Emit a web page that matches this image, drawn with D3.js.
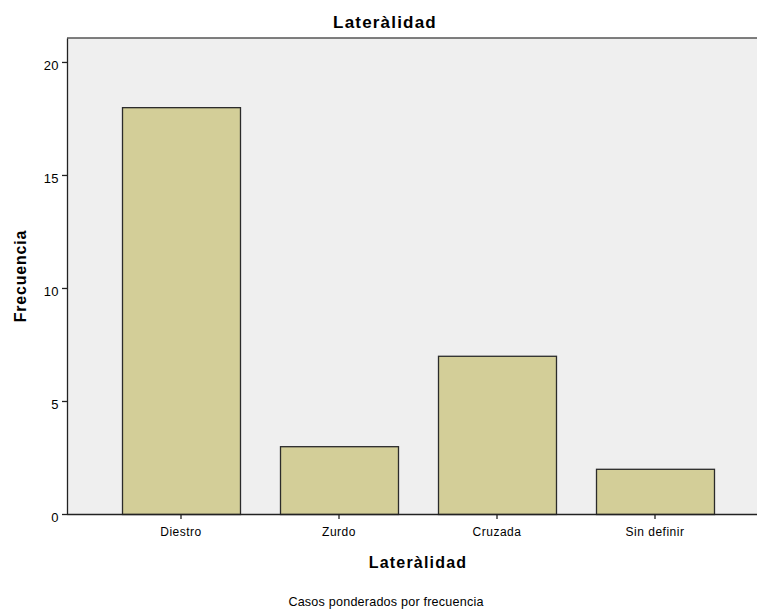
<!DOCTYPE html>
<html><head><meta charset="utf-8">
<script src="https://cdn.jsdelivr.net/npm/d3@7"></script>
<style>body{margin:0;background:#fff}svg{display:block}text{font-family:"Liberation Sans",Arial,sans-serif;fill:#000}</style>
</head><body>
<script>
const categories = ["Diestro","Zurdo","Cruzada","Sin definir"];
const values = [18,3,7,2];
const yTicks = [0,5,10,15,20];
const title = "Lateràlidad";
const xLabel = "Lateràlidad";
const yLabel = "Frecuencia";
const footer = "Casos ponderados por frecuencia";

const W=757,H=611;
const plot={l:67,t:38,r:757,b:514};
const svg=d3.select("body").append("svg").attr("width",W).attr("height",H);

const y=d3.scaleLinear().domain([0,21.06]).range([plot.b,plot.t]);
const x=d3.scaleBand().domain(categories).range([102,734]).paddingInner(0.2532).paddingOuter(0.1266);

svg.append("rect").attr("x",plot.l).attr("y",plot.t).attr("width",plot.r-plot.l).attr("height",plot.b-plot.t).attr("fill","#efefef");
svg.append("line").attr("x1",plot.l).attr("x2",plot.r).attr("y1",plot.t).attr("y2",plot.t).attr("stroke","#555").attr("stroke-width",1.5);

svg.append("g").selectAll("rect").data(values).join("rect")
  .attr("x",(d,i)=>x(categories[i])+0.5).attr("width",x.bandwidth())
  .attr("y",d=>y(d)+0.5).attr("height",d=>plot.b-y(d))
  .attr("fill","#d3ce98").attr("stroke","#2b2b2b").attr("stroke-width",1.3);

const ya=svg.append("g").attr("transform",`translate(${plot.l},0)`)
  .call(d3.axisLeft(y).tickValues(yTicks).tickSize(5).tickSizeOuter(0).tickPadding(3));
ya.select(".domain").attr("stroke","#222").attr("stroke-width",1.3);
ya.selectAll(".tick line").attr("stroke","#222").attr("stroke-width",1.3);
ya.selectAll("text").attr("font-size",13).attr("dy","0.55em").attr("letter-spacing","0.4px").attr("font-family","Liberation Sans, Arial").attr("fill","#111");

const xa=svg.append("g").attr("transform",`translate(0,${plot.b})`)
  .call(d3.axisBottom(x).tickSize(5).tickPadding(8).tickSizeOuter(0));
xa.select(".domain").attr("d",`M${plot.l},0.5H${plot.r}`).attr("stroke","#222").attr("stroke-width",1.3);
xa.selectAll(".tick line").attr("stroke","#222").attr("stroke-width",1.3);
xa.selectAll("text").attr("font-size",12).attr("letter-spacing","0.5px").attr("font-family","Liberation Sans, Arial").attr("fill","#111");

svg.append("text").attr("x",385).attr("y",28).attr("text-anchor","middle").attr("font-weight","bold").attr("font-size",17).attr("letter-spacing","1.2px").text(title);
svg.append("text").attr("x",418).attr("y",568).attr("text-anchor","middle").attr("font-weight","bold").attr("font-size",16).attr("letter-spacing","1.2px").text(xLabel);
svg.append("text").attr("transform","translate(26,276) rotate(-90)").attr("text-anchor","middle").attr("font-weight","bold").attr("font-size",16).attr("letter-spacing","0.8px").text(yLabel);
svg.append("text").attr("x",386).attr("y",606).attr("text-anchor","middle").attr("font-size",12.6).attr("letter-spacing","0.2px").text(footer);
</script>
</body></html>
